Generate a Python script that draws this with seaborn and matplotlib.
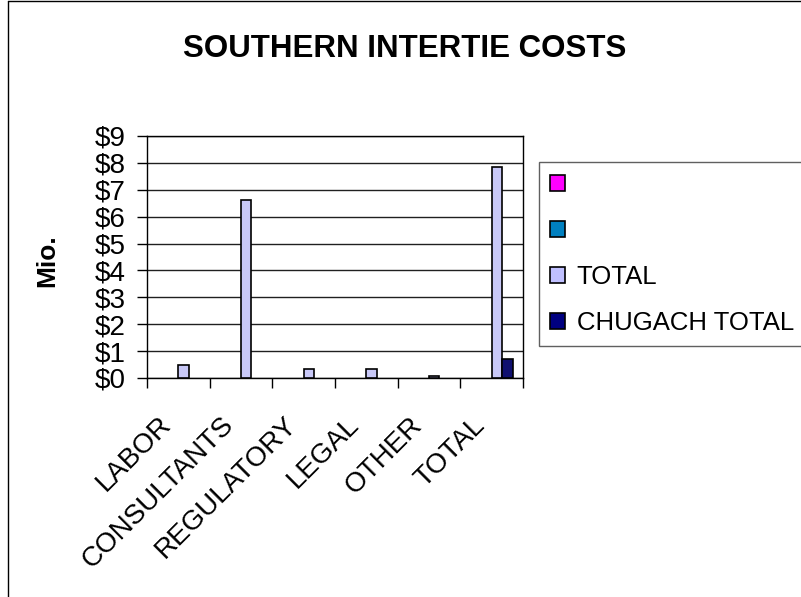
import matplotlib
matplotlib.use("Agg")
import matplotlib.pyplot as plt
import matplotlib.transforms as mtransforms
from matplotlib.patches import Patch
from matplotlib.lines import Line2D
import seaborn as sns
import pandas as pd

# ---- data ----
categories = ["LABOR", "CONSULTANTS", "REGULATORY", "LEGAL", "OTHER", "TOTAL"]
series_names = ["S1", "S2", "TOTAL", "CHUGACH TOTAL"]
legend_labels = [" ", " ", "TOTAL", "CHUGACH TOTAL"]
series1 = [0, 0, 0, 0, 0, 0]
series2 = [0, 0, 0, 0, 0, 0]
total = [0.47, 6.62, 0.32, 0.32, 0.07, 7.85]
chugach_total = [0, 0, 0, 0, 0, 0.72]
colors = ["#FF00FF", "#0080C0", "#C0C0FF", "#000080"]
y_ticks = list(range(0, 10))
y_tick_labels = [f"${v}" for v in y_ticks]

rows = []
for name, vals in zip(series_names, [series1, series2, total, chugach_total]):
    for c, v in zip(categories, vals):
        rows.append({"category": c, "series": name, "value": v})
df = pd.DataFrame(rows)

sns.set_style("white")
plt.rcParams["font.family"] = ["Liberation Sans", "DejaVu Sans"]
plt.rcParams["text.color"] = "black"
plt.rcParams["xtick.color"] = "black"
plt.rcParams["ytick.color"] = "black"
plt.rcParams["xtick.labelcolor"] = "black"
plt.rcParams["ytick.labelcolor"] = "black"

W, H = 801, 597
fig = plt.figure(figsize=(W / 100, H / 100), dpi=100)
ax = fig.add_axes([147 / W, 1 - 378 / H, (523 - 147) / W, (378 - 136) / H])

sns.barplot(data=df, x="category", y="value", hue="series", hue_order=series_names,
            order=categories, palette=colors, width=0.67, edgecolor="black",
            linewidth=1.2, errorbar=None, legend=False, ax=ax, zorder=3)
for p in ax.patches:
    if p.get_height() == 0:
        p.set_linewidth(0)

ax.set_xlim(-0.5, len(categories) - 0.5)
ax.set_ylim(0, 9)
ax.set_yticks(y_ticks)
ax.set_yticklabels(y_tick_labels)
ax.yaxis.grid(True, color="#202020", linewidth=1.0)
ax.set_axisbelow(True)
ax.set_xlabel("")
ax.set_ylabel("")
for s in ax.spines.values():
    s.set_visible(True)
    s.set_color("black")
    s.set_linewidth(1.0)

ax.tick_params(axis="y", which="major", direction="out", length=7, width=1,
               color="black", labelcolor="black", labelsize=20, pad=8.5, left=True)
ax.set_xticks(range(len(categories)))
ax.set_xticklabels(categories)
ax.set_xticks([i - 0.5 for i in range(len(categories) + 1)], minor=True)
ax.tick_params(axis="x", which="minor", direction="out", length=7, width=1,
               color="black", bottom=True)
ax.tick_params(axis="x", which="major", length=0, labelsize=20, labelcolor="black", pad=31)
offset = mtransforms.ScaledTranslation(-8 / 72, 0, fig.dpi_scale_trans)
for lab in ax.get_xticklabels():
    lab.set_rotation(45)
    lab.set_ha("right")
    lab.set_va("center")
    lab.set_rotation_mode("anchor")
    lab.set_transform(lab.get_transform() + offset)

# legend
handles = [Patch(facecolor=c, edgecolor="black", linewidth=1.2) for c in colors]
leg = fig.legend(handles, legend_labels, loc="upper left",
                 bbox_to_anchor=(539 / W, 1 - 344 / H, (810 - 539) / W, (344 - 162) / H),
                 mode="expand", fontsize=18.5, frameon=True, fancybox=False,
                 framealpha=1, edgecolor="#606060", borderaxespad=0,
                 handlelength=0.6, handleheight=0.6, handletextpad=0.45,
                 labelspacing=0.86, borderpad=0.42)
leg.get_frame().set_linewidth(1.0)
for t in leg.get_texts():
    t.set_color("black")

# titles
fig.text(405 / W, 1 - 49 / H, "SOUTHERN INTERTIE COSTS", ha="center", va="center",
         fontsize=22.5, fontweight="bold", color="black")
fig.text(47 / W, 1 - 261 / H, "Mio.", ha="center", va="center", rotation=90,
         fontsize=19, fontweight="bold", color="black")

# outer chart border (left and top edges visible)
fig.add_artist(Line2D([7.5 / W, 7.5 / W], [0, 1 - 1 / H], color="black", linewidth=1.0,
                      transform=fig.transFigure))
fig.add_artist(Line2D([7.5 / W, 1.0], [1 - 1 / H, 1 - 1 / H], color="black", linewidth=1.0,
                      transform=fig.transFigure))

fig.savefig("out.png", dpi=100)
